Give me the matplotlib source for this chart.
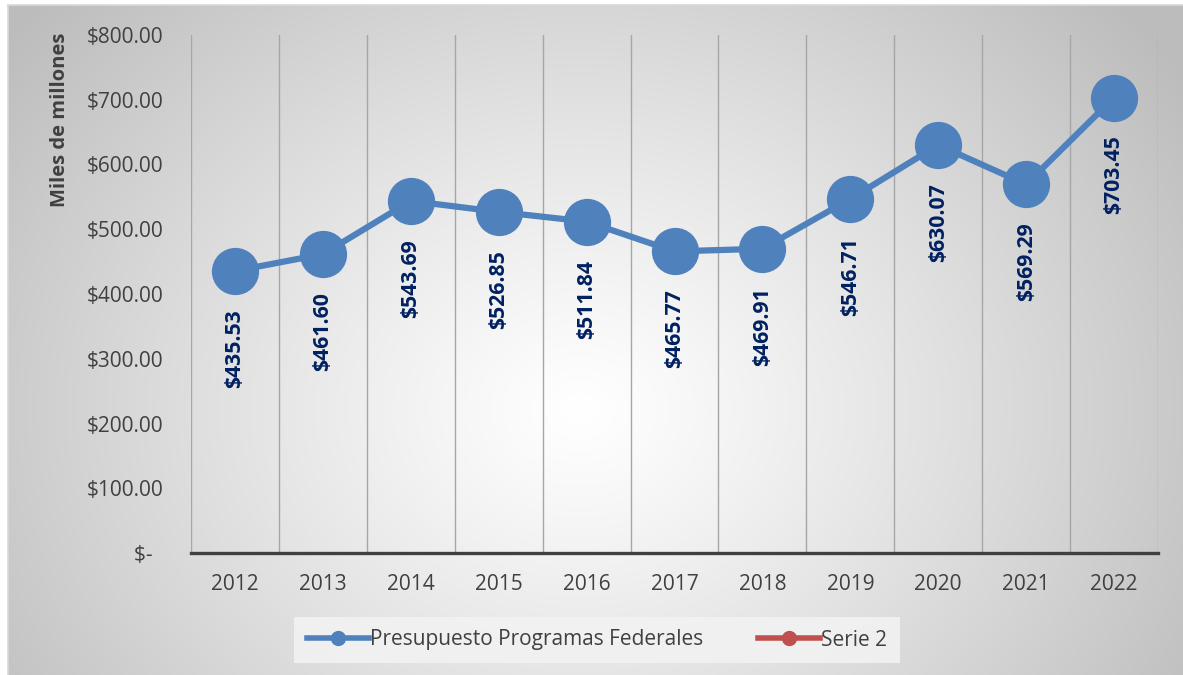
import numpy as np
import matplotlib
matplotlib.use("Agg")
import matplotlib.pyplot as plt
from matplotlib.lines import Line2D

years = ["2012", "2013", "2014", "2015", "2016", "2017", "2018", "2019", "2020", "2021", "2022"]
values = [435.53, 461.60, 543.69, 526.85, 511.84, 465.77, 469.91, 546.71, 630.07, 569.29, 703.45]
yticks = [0, 100, 200, 300, 400, 500, 600, 700, 800]
ytick_labels = ["$-  ", "$100.00", "$200.00", "$300.00", "$400.00", "$500.00", "$600.00", "$700.00", "$800.00"]
series_names = ["Presupuesto Programas Federales", "Serie 2"]
y_title = "Miles de millones"

plt.rcParams['font.family'] = ['Open Sans', 'DejaVu Sans']
W, H = 1183, 675
fig = plt.figure(figsize=(W / 100, H / 100), dpi=100)
fig.patch.set_facecolor('white')

# radial gradient background
bg = fig.add_axes([8 / W, 0, 1 - 8 / W, 1 - 5 / H], zorder=-10)
gx = np.linspace(8, W, 600)
gy = np.linspace(5, H, 400)
X, Y = np.meshgrid(gx, gy)
cx, cy = 580, 410
r = np.sqrt(((X - cx) / 1.0) ** 2 + ((Y - cy) / 0.85) ** 2)
r = np.clip(r / 720, 0, 1)
v = 1.0 - 0.26 * r ** 1.15
img = np.dstack([v, v, v])
bg.imshow(img, aspect='auto', extent=[0, 1, 0, 1], origin='upper', interpolation='bilinear')
bg.set_xlim(0, 1)
bg.set_ylim(0, 1)
bg.axis('off')
# top/left borders
fig.add_artist(Line2D([8 / W, 8 / W], [0, 1 - 5 / H], color='#d9d9d9', lw=1.2))
fig.add_artist(Line2D([8 / W, 1], [1 - 5 / H, 1 - 5 / H], color='#d9d9d9', lw=1.2))

left, right = 191 / W, 1158 / W
bottom, top = 1 - 553 / H, 1 - 35 / H
ax = fig.add_axes([left, bottom, right - left, top - bottom])
ax.set_facecolor('none')
x = np.arange(len(years))
ax.set_xlim(-0.5, len(years) - 0.5)
ax.set_ylim(0, 800)

for b in np.arange(-0.5, len(years), 1.0):
    ax.axvline(b, color='#a6a6a6', lw=1.0, zorder=1)

for s in ['top', 'right', 'left']:
    ax.spines[s].set_visible(False)
ax.spines['bottom'].set_color('#404040')
ax.spines['bottom'].set_linewidth(2.4)
ax.spines['bottom'].set_zorder(3)

ax.plot(x, values, color='#4F81BD', lw=4.5, marker='o', markersize=33,
        markerfacecolor='#4F81BD', markeredgecolor='#4F81BD', zorder=4, clip_on=False)

for xi, val in zip(x, values):
    ax.annotate(f"${val:,.2f}", (xi, val), xytext=(0, -27.5), textcoords='offset points',
                rotation=90, ha='center', va='top', fontsize=15.3, fontweight='bold',
                color='#002060', zorder=5)

ax.set_xticks(x)
ax.set_xticklabels(years, fontsize=15, color='#404040')
ax.tick_params(axis='x', length=0, pad=15)
ax.set_yticks(yticks)
ax.set_yticklabels(ytick_labels, fontsize=15, color='#404040')
ax.tick_params(axis='y', length=0, pad=20)

fig.text(60 / W, 1 - 120 / H, y_title, rotation=90, ha='center', va='center',
         fontsize=14.5, fontweight='bold', color='#404040')

handles = [
    Line2D([], [], color='#4F81BD', lw=4, marker='o', markersize=10),
    Line2D([], [], color='#C0504D', lw=4, marker='o', markersize=10),
]
leg = fig.legend(handles, series_names, loc='center', bbox_to_anchor=(597 / W, 1 - 640 / H),
                 ncol=2, frameon=True, fontsize=15, handlelength=3.0, handletextpad=0.05,
                 columnspacing=2.6, borderpad=0.6, borderaxespad=0)
leg.get_frame().set_facecolor('#f2f2f2')
leg.get_frame().set_edgecolor('none')
leg.get_frame().set_alpha(0.9)
leg.get_frame().set_boxstyle('square', pad=0.0)
for t in leg.get_texts():
    t.set_color('#404040')

fig.savefig('out.png', dpi=100)
